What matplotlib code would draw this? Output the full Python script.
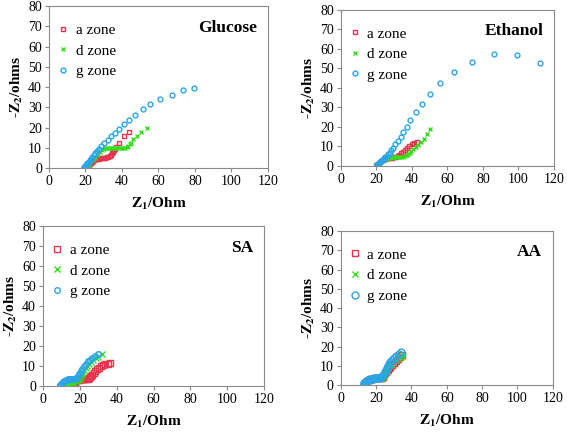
import matplotlib
matplotlib.use("Agg")
import matplotlib.pyplot as plt

plt.rcParams["font.family"] = ["Liberation Serif", "DejaVu Serif"]
plt.rcParams["mathtext.fontset"] = "stix"

# Glucose
glu_a_x = [21.0, 21.5, 22.0, 22.5, 23.0, 23.6, 24.2, 24.9, 25.6, 26.4, 27.3, 28.2, 29.1, 30.0, 30.9,
           31.8, 32.6, 33.3, 33.9, 34.4, 34.9, 35.5, 36.2, 37.0, 38.3, 41.2, 43.6]
glu_a_y = [0.2, 0.8, 1.4, 2.0, 2.6, 3.2, 3.7, 4.1, 4.4, 4.6, 4.7, 4.8, 4.9, 5.0, 5.1,
           5.3, 5.6, 6.0, 6.5, 7.2, 8.0, 8.8, 9.6, 10.3, 12.2, 15.8, 17.8]
glu_d_x = [21.0, 21.5, 22.0, 22.6, 23.2, 23.9, 24.6, 25.4, 26.2, 27.1, 28.0, 29.0, 30.0, 31.1, 32.2, 33.4,
           34.6, 35.8, 37.0, 38.2, 39.4, 40.6, 41.7, 42.7, 43.5, 44.2, 44.9, 46.0, 48.0, 50.7, 53.5]
glu_d_y = [0.3, 1.0, 1.7, 2.5, 3.3, 4.1, 4.9, 5.7, 6.5, 7.3, 8.0, 8.7, 9.3, 9.7, 10.0, 10.1,
           10.1, 10.0, 9.9, 9.8, 9.8, 9.9, 10.1, 10.5, 11.0, 11.7, 12.5, 14.2, 15.8, 17.9, 19.6]
glu_g_x = [19.0, 19.3, 19.7, 20.1, 20.6, 21.1, 21.7, 22.3, 23.0, 23.7, 24.5, 25.4, 26.4, 27.5, 28.6,
           30.3, 32.1, 33.9, 36.0, 38.3, 40.9, 44.0, 47.4, 51.5, 55.5, 60.8, 67.2, 73.4, 79.6]
glu_g_y = [0.2, 0.6, 1.0, 1.5, 2.0, 2.6, 3.2, 3.9, 4.6, 5.4, 6.3, 7.2, 8.2, 9.6, 11.0,
           12.5, 14.0, 15.6, 17.3, 19.3, 21.6, 23.7, 26.0, 29.1, 31.4, 34.1, 36.2, 38.5, 39.5]

# Ethanol
eth_a_x = [20.0, 20.5, 21.0, 21.6, 22.2, 22.9, 23.6, 24.4, 25.2, 26.1, 27.0, 28.0, 29.0, 30.0, 31.0,
           32.0, 33.0, 34.0, 35.0, 36.1, 37.3, 38.6, 40.0, 41.5, 43.0]
eth_a_y = [0.2, 0.7, 1.2, 1.7, 2.2, 2.7, 3.1, 3.4, 3.7, 3.9, 4.0, 4.1, 4.2, 4.4, 4.7,
           5.1, 5.7, 6.4, 7.2, 8.1, 9.1, 10.1, 11.1, 11.9, 12.5]
eth_d_x = [20.0, 20.6, 21.3, 22.0, 22.8, 23.6, 24.5, 25.4, 26.4, 27.4, 28.5, 29.6, 30.7, 31.8, 32.9,
           34.0, 35.1, 36.1, 37.0, 37.9, 38.8, 39.8, 40.9, 42.1, 43.5, 45.0, 46.6, 48.4, 50.5]
eth_d_y = [0.3, 0.8, 1.3, 1.8, 2.3, 2.8, 3.2, 3.6, 3.9, 4.1, 4.3, 4.4, 4.5, 4.5, 4.6,
           4.7, 4.8, 5.0, 5.4, 5.9, 6.6, 7.5, 8.5, 9.6, 10.9, 12.3, 14.0, 16.2, 18.8]
eth_g_x = [20.2, 20.6, 21.1, 21.6, 22.2, 22.8, 23.5, 24.2, 25.0, 25.8, 26.7, 27.5, 28.4, 29.4, 30.7,
           32.2, 33.7, 35.2, 37.0, 39.2, 42.1, 45.6, 50.4, 56.1, 63.5, 74.0, 86.3, 99.2, 112.3]
eth_g_y = [0.2, 0.6, 1.1, 1.6, 2.1, 2.6, 3.2, 3.8, 4.4, 5.1, 5.9, 6.8, 7.9, 9.2, 11.1,
           12.8, 15.0, 17.3, 20.0, 23.6, 27.4, 31.5, 36.8, 42.7, 48.2, 53.3, 57.3, 56.9, 53.0]

# SA
sa_a_x = [14.0, 14.6, 15.2, 15.9, 16.6, 17.3, 18.0, 18.8, 19.6, 20.4, 21.2, 22.0, 22.8, 23.6,
          24.3, 25.0, 25.6, 26.2, 26.8, 27.5, 28.3, 29.2, 30.3, 31.6, 32.8, 33.9, 35.1, 36.3]
sa_a_y = [0.2, 0.5, 0.9, 1.3, 1.7, 2.1, 2.5, 2.8, 3.1, 3.3, 3.5, 3.6, 3.6, 3.6,
          3.7, 3.9, 4.3, 4.9, 5.6, 6.5, 7.5, 8.5, 9.2, 9.8, 10.3, 10.8, 11.1, 11.3]
sa_d_x = [12.0, 12.6, 13.3, 14.0, 14.8, 15.6, 16.4, 17.2, 18.0, 18.8, 19.5, 20.1, 20.6, 21.1,
          21.7, 22.3, 23.1, 24.0, 25.0, 26.1, 27.3, 28.6, 30.0, 31.9]
sa_d_y = [0.2, 0.5, 0.8, 1.1, 1.4, 1.7, 2.0, 2.3, 2.6, 3.0, 3.5, 4.2, 5.1, 6.1,
          7.2, 8.2, 9.2, 10.1, 11.0, 12.0, 12.9, 13.8, 14.7, 15.8]
sa_g_x = [9.0, 9.4, 9.9, 10.4, 11.0, 11.6, 12.3, 13.0, 13.8, 14.6, 15.4, 16.2, 17.0, 17.8,
          18.5, 19.1, 19.6, 20.0, 20.5, 21.1, 22.0, 23.1, 24.4, 25.5, 26.7, 28.3, 30.1]
sa_g_y = [0.2, 0.6, 1.1, 1.6, 2.1, 2.5, 2.8, 3.1, 3.3, 3.4, 3.5, 3.5, 3.6, 3.8,
          4.2, 4.9, 5.8, 6.7, 7.7, 8.7, 10.0, 11.2, 12.3, 13.2, 14.2, 15.2, 16.2]

# AA
aa_a_x = [13.2, 13.5, 13.9, 14.4, 15.0, 15.7, 16.5, 17.3, 18.2, 19.1, 20.0, 20.9, 21.8, 22.6,
          23.3, 24.0, 24.6, 25.2, 25.8, 26.5, 27.2, 28.0, 28.9, 29.9, 31.0, 32.2, 33.4, 34.8]
aa_a_y = [0.2, 0.7, 1.2, 1.7, 2.2, 2.6, 2.9, 3.1, 3.3, 3.4, 3.4, 3.5, 3.5, 3.6,
          3.8, 4.3, 5.1, 6.0, 6.9, 7.8, 8.7, 9.6, 10.5, 11.5, 12.5, 13.5, 14.5, 15.4]
aa_d_x = [13.1, 13.4, 13.8, 14.3, 14.9, 15.6, 16.4, 17.2, 18.1, 19.0, 19.9, 20.8, 21.7, 22.5,
          23.2, 23.8, 24.4, 25.0, 25.6, 26.3, 27.0, 27.8, 28.7, 29.8, 31.0, 32.3, 33.8, 35.4]
aa_d_y = [0.2, 0.7, 1.2, 1.7, 2.2, 2.6, 2.9, 3.1, 3.3, 3.4, 3.4, 3.5, 3.5, 3.6,
          3.9, 4.5, 5.4, 6.4, 7.4, 8.4, 9.3, 10.2, 11.1, 12.0, 12.9, 13.8, 14.5, 15.0]
aa_g_x = [13.0, 13.3, 13.7, 14.2, 14.8, 15.5, 16.3, 17.1, 18.0, 18.9, 19.8, 20.7, 21.6, 22.4,
          23.0, 23.6, 24.2, 24.8, 25.4, 26.0, 26.6, 27.3, 28.1, 29.2, 30.3, 31.5, 32.8, 34.2]
aa_g_y = [0.3, 0.8, 1.3, 1.8, 2.3, 2.7, 3.0, 3.2, 3.3, 3.4, 3.4, 3.5, 3.5, 3.7,
          4.0, 4.8, 5.8, 6.9, 8.0, 9.0, 10.0, 10.9, 11.8, 12.9, 14.0, 15.0, 16.0, 17.2]

paineis = [
    ("Glucose", [0.0864, 0.611, 0.386, 0.375], glu_a_x, glu_a_y, glu_d_x, glu_d_y, glu_g_x, glu_g_y, 3.5),
    ("Ethanol", [0.601, 0.616, 0.376, 0.361], eth_a_x, eth_a_y, eth_d_x, eth_d_y, eth_g_x, eth_g_y, 3.5),
    ("SA", [0.0758, 0.1065, 0.390, 0.370], sa_a_x, sa_a_y, sa_d_x, sa_d_y, sa_g_x, sa_g_y, 4.0),
    ("AA", [0.601, 0.1088, 0.374, 0.356], aa_a_x, aa_a_y, aa_d_x, aa_d_y, aa_g_x, aa_g_y, 5.0),
]

vermelho = "#e8344e"
verde = "#33e01a"
azul = "#2aa4ea"

fig = plt.figure(figsize=(5.67, 4.32), dpi=100)

for nome, pos, ax_, ay_, dx_, dy_, gx_, gy_, ms in paineis:
    ax = fig.add_axes(pos)
    ax.plot(ax_, ay_, "s", ms=ms, mfc="none", mec=vermelho, mew=1.0, label="a zone")
    ax.plot(dx_, dy_, "x", ms=ms, color=verde, mew=1.0, label="d zone")
    ax.plot(gx_, gy_, "o", ms=ms, mfc="none", mec=azul, mew=1.0, label="g zone")
    ax.set_xlim(0, 120)
    ax.set_ylim(0, 80)
    ax.set_xticks(range(0, 121, 20))
    ax.set_yticks(range(0, 81, 10))
    for lado in ax.spines.values():
        lado.set_color("#8a8a8a")
        lado.set_linewidth(0.8)
    ax.tick_params(direction="out", length=3, width=0.8, color="#8a8a8a", labelsize=10, pad=2)
    ax.set_xlabel(r"$\mathbf{Z_1}$/Ohm", fontsize=11, fontweight="bold", labelpad=6)
    ax.set_ylabel(r"-$\mathbf{Z_2}$/ohms", fontsize=11, fontweight="bold", labelpad=2)
    ax.text(0.95, 0.84, nome, transform=ax.transAxes, ha="right", fontsize=12.5, fontweight="bold")
    ax.legend(loc="upper left", bbox_to_anchor=(0.01, 0.93), frameon=False, fontsize=11,
              handlelength=0.8, handletextpad=0.4, labelspacing=0.45, borderaxespad=0.0)

plt.savefig("out.png", dpi=100)
